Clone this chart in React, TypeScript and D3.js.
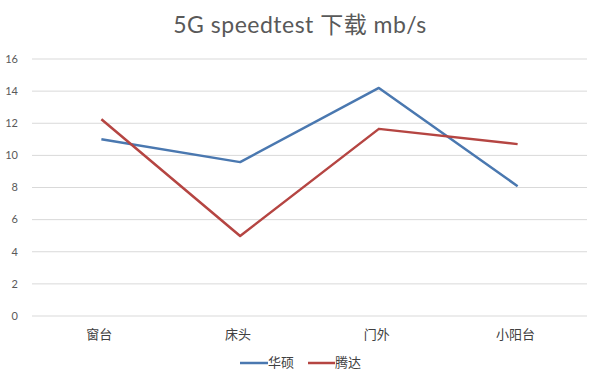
import React from "react";
import * as d3 from "d3";

const categories = ["窗台", "床头", "门外", "小阳台"];
const seriesNames = ["华硕", "腾达"];
const asusValues = [11.0, 9.58, 14.2, 8.08];
const tendaValues = [12.25, 4.98, 11.65, 10.7];
const yTicks = [0, 2, 4, 6, 8, 10, 12, 14, 16];
const colors = ["#4a78b0", "#b54542"];

export default function App() {
  const W = 600, H = 382;
  const left = 32, right = 587, top = 59, bottom = 316;
  const x = d3.scaleBand<string>().domain(categories).range([left, right]);
  const y = d3.scaleLinear().domain([0, 16]).range([bottom, top]);
  const line = d3
    .line<number>()
    .x((_, i) => (x(categories[i]) as number) + x.bandwidth() / 2)
    .y((d) => y(d));
  const series = [asusValues, tendaValues];
  const font = "Lato, 'Noto Sans CJK SC', sans-serif";
  const legendItems = [
    { x0: 240, x1: 268, tx: 268 },
    { x0: 308, x1: 335, tx: 335 },
  ];
  return (
    <svg
      width={W}
      height={H}
      style={{ position: "absolute", left: 0, top: 0, background: "#fff" }}
    >
      <text
        x={W / 2}
        y={33}
        textAnchor="middle"
        fontFamily={font}
        fontSize={23}
        letterSpacing={0.5}
        fill="#595959"
      >
        5G speedtest 下载 mb/s
      </text>
      {yTicks.map((t) => (
        <g key={t}>
          <line
            x1={left}
            x2={right}
            y1={y(t)}
            y2={y(t)}
            stroke="#d9d9d9"
            strokeWidth={1}
          />
          <text
            x={18}
            y={y(t)}
            dy="0.35em"
            textAnchor="end"
            fontFamily={font}
            fontSize={11}
            fill="#595959"
          >
            {t}
          </text>
        </g>
      ))}
      {categories.map((c) => (
        <text
          key={c}
          x={(x(c) as number) + x.bandwidth() / 2 - 2}
          y={334}
          dy="0.35em"
          textAnchor="middle"
          fontFamily={font}
          fontSize={13}
          fill="#404040"
        >
          {c}
        </text>
      ))}
      {series.map((s, i) => (
        <path
          key={i}
          d={line(s) as string}
          fill="none"
          stroke={colors[i]}
          strokeWidth={2.5}
          strokeLinejoin="round"
        />
      ))}
      {legendItems.map((l, i) => (
        <g key={i}>
          <line
            x1={l.x0}
            x2={l.x1}
            y1={363}
            y2={363}
            stroke={colors[i]}
            strokeWidth={2.5}
          />
          <text
            x={l.tx}
            y={362}
            dy="0.35em"
            fontFamily={font}
            fontSize={13}
            fill="#404040"
          >
            {seriesNames[i]}
          </text>
        </g>
      ))}
    </svg>
  );
}
